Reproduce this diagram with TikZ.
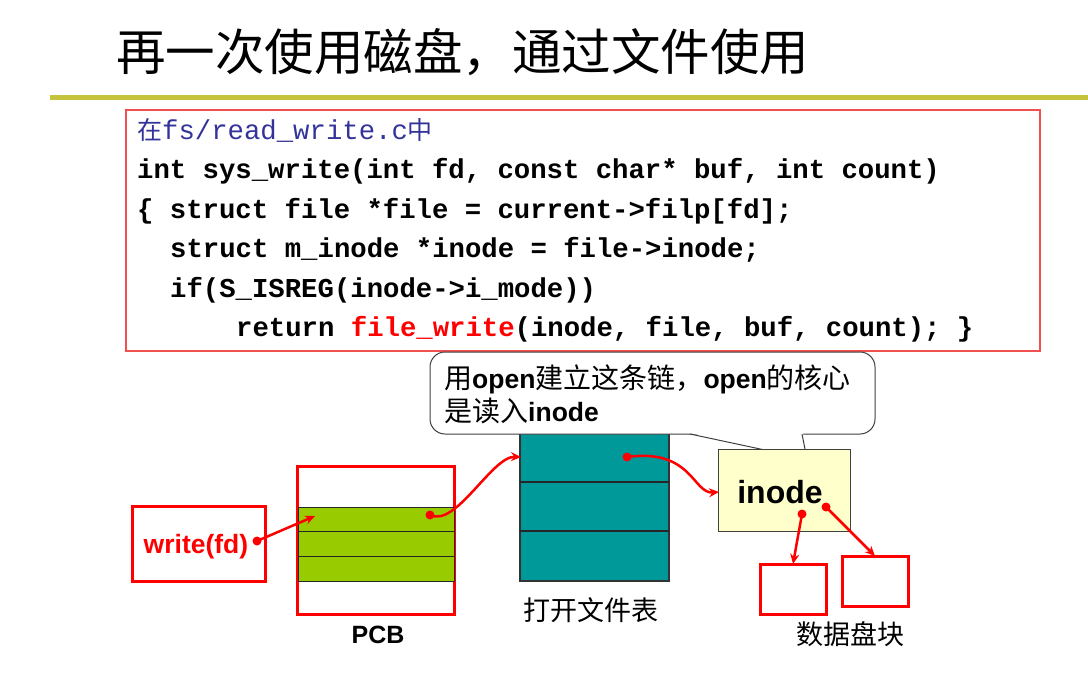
\documentclass[tikz,border=0pt]{standalone}
\usepackage{fontspec}
\setmainfont{Liberation Sans}
\newfontfamily\cjk{Noto Sans CJK SC}
\newfontfamily\codefont{Liberation Mono}
\usetikzlibrary{arrows.meta}
\definecolor{olivebar}{RGB}{196,196,60}
\definecolor{codered}{RGB}{240,80,80}
\definecolor{codeblue}{RGB}{51,51,153}
\definecolor{pcbgreen}{RGB}{153,204,0}
\definecolor{tablecolor}{RGB}{0,153,153}
\definecolor{inodefill}{RGB}{255,255,204}
\newcommand{\cjkc}[1]{{\cjk\fontsize{28}{30}\selectfont #1}}
\begin{document}
\begin{tikzpicture}[x=1pt,y=-1pt,
  box/.style={anchor=north west,inner sep=0pt,outer sep=0pt},
  redbox/.style={box,draw=red,line width=3pt},
  dot/.style={circle,fill=red,inner sep=0pt,minimum size=9pt},
  link/.style={red,line width=2.5pt,-{Stealth[length=10pt,width=9pt]}},
  codeline/.style={anchor=base west,inner sep=0pt,font={\codefont\fontsize{27.3}{30}\selectfont\bfseries}},
  cjklabel/.style={anchor=base,inner sep=0pt,font={\cjk\fontsize{27}{30}\selectfont}},
  calltext/.style={anchor=base west,inner sep=0pt,font={\fontsize{26.5}{30}\selectfont}},
  ]
\useasboundingbox (0,0) rectangle (1088,680);
% title
\node[anchor=base west,inner sep=0pt,font={\cjk\fontsize{49.5}{52}\selectfont}] (title) at (116,70) {再一次使用磁盘，通过文件使用};
\fill[olivebar] (50,95) rectangle (1088,100);
% code box
\node[box,draw=codered,line width=1.2pt,minimum width=914,minimum height=241] (code) at (126,110) {};
\node[anchor=base west,inner sep=0pt,text=codeblue,font={\codefont\fontsize{27.3}{30}\selectfont}] (l1) at (137,139) {{\cjk\fontsize{25}{30}\selectfont 在}fs/read\_write.c{\cjk\fontsize{25}{30}\selectfont 中}};
\node[codeline] (l2) at (137,178) {int sys\_write(int fd, const char* buf, int count)};
\node[codeline] (l3) at (137,218) {\{ struct file *file = current->filp[fd];};
\node[codeline] (l4) at (170,257) {struct m\_inode *inode = file->inode;};
\node[codeline] (l5) at (170,297) {if(S\_ISREG(inode->i\_mode))};
\node[codeline] (l6) at (236,336) {return {\color{red}file\_write}(inode, file, buf, count); \}};
% open file table
\node[box,fill=tablecolor,draw=black!80,line width=1.2pt,minimum width=149,minimum height=148] (tbl) at (520,433) {};
\draw[black!85,line width=1.2pt] (520,482) -- (669,482) (520,531) -- (669,531);
\node[cjklabel] (tbllabel) at (591,620) {打开文件表};
% callout
\draw[black!75,line width=1pt,fill=white,rounded corners=15] (430,352) rectangle (875,434);
\fill[white] (689,432.8) -- (803,432.8) -- (807,459) -- cycle;
\draw[black!75,line width=1pt,line join=miter] (690,434) -- (807,459) -- (802,434);
\node[calltext] (c1) at (444,388) {\cjkc{用}\textbf{open}\cjkc{建立这条链，}\textbf{open}\cjkc{的核心}};
\node[calltext] (c2) at (444,421) {\cjkc{是读入}\textbf{inode}};
% PCB
\node[redbox,minimum width=157,minimum height=148] (pcb) at (297.5,466) {};
\node[box,fill=pcbgreen,draw=black!85,line width=1pt,minimum width=156,minimum height=74] (green) at (298,507) {};
\draw[black!85,line width=1pt] (298,531) -- (454,531) (298,556) -- (454,556);
\node[anchor=base,inner sep=0pt,font={\fontsize{25}{30}\selectfont\bfseries}] (pcblabel) at (378,643) {PCB};
% write(fd)
\node[redbox,minimum width=133,minimum height=75] (wbox) at (132.5,506) {};
\node[anchor=base,inner sep=0pt,text=red,font={\fontsize{26.5}{30}\selectfont\bfseries}] (wtext) at (196,553) {write(fd)};
% inode
\node[box,fill=inodefill,draw=black!75,line width=1pt,minimum width=132,minimum height=82] (inode) at (718,449) {};
\node[anchor=base,inner sep=0pt,font={\fontsize{32}{36}\selectfont\bfseries}] (inodetext) at (780,503) {inode};
% data blocks
\node[redbox,minimum width=66,minimum height=50] (db1) at (760,564) {};
\node[redbox,minimum width=66,minimum height=50] (db2) at (842,556) {};
\node[cjklabel] (dblabel) at (850,644) {数据盘块};
% dots
\node[dot] (d0) at (257,541) {};
\node[dot] (d1) at (430,515) {};
\node[dot] (d2) at (627,457) {};
\node[dot] (d3) at (802,514) {};
\node[dot] (d4) at (826,507) {};
\coordinate (g1) at (315,516);
\coordinate (t1) at (521,457);
\coordinate (i1) at (719,492);
% links
\draw[link] (d0.center) -- (g1);
\draw[link] (d1.center) .. controls (456,528) and (492,456) .. (t1);
\draw[link] (d2.center) .. controls (692,448) and (693,494) .. (i1);
\draw[link] (d3.center) -- (db1.north);
\draw[link] (d4.center) -- (db2.north);
\end{tikzpicture}
\end{document}
